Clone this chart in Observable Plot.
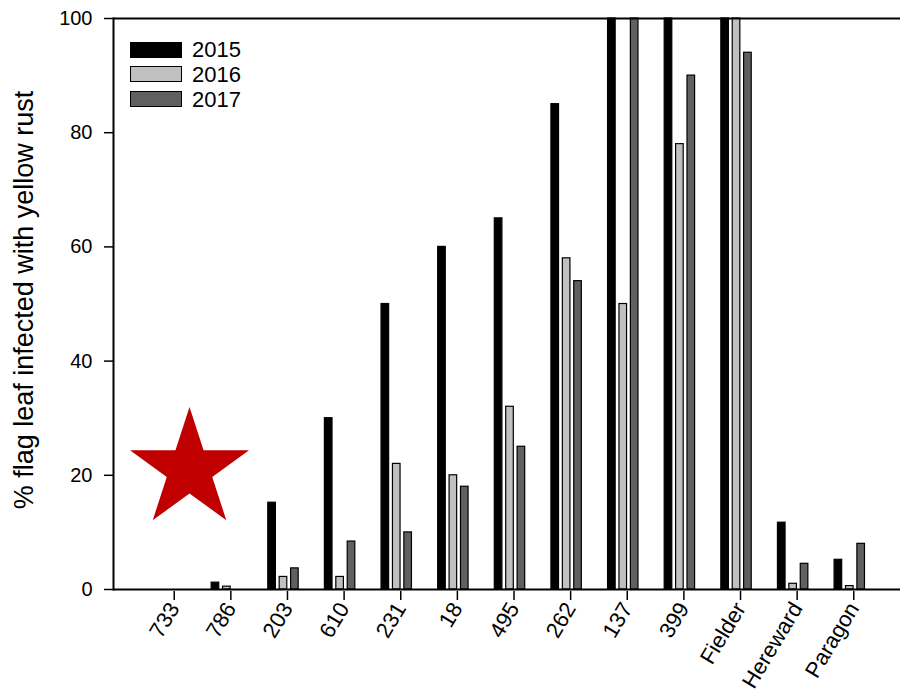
<!DOCTYPE html>
<html>
<head>
<meta charset="utf-8">
<script src="https://cdn.jsdelivr.net/npm/d3@7"></script>
<script src="https://cdn.jsdelivr.net/npm/@observablehq/plot@0.6"></script>
<style>
  html, body { margin: 0; padding: 0; background: #fff; }
  #wrap { position: relative; width: 900px; height: 695px; font-family: "Liberation Sans", Arial, sans-serif; }
  #legend { position: absolute; left: 130px; top: 41px; }
  .row { display: flex; align-items: center; height: 17px; margin-bottom: 7.8px; }
  .sw { width: 50px; height: 14px; border: 1.5px solid #000; }
  .lab { margin-left: 10px; font-size: 22px; line-height: 17px; color: #000; }
</style>
</head>
<body>
<div id="wrap"><div id="legend"></div></div>
<script>
const categories = ["733","786","203","610","231","18","495","262","137","399","Fielder","Hereward","Paragon"];
const years = ["2015","2016","2017"];
const v2015 = [0, 1.2, 15.2, 30, 50, 60, 65, 85, 100, 100, 100, 11.7, 5.2];
const v2016 = [0, 0.5, 2.2, 2.2, 22, 20, 32, 58, 50, 78, 100, 1.0, 0.6];
const v2017 = [0, 0, 3.7, 8.4, 10, 18, 25, 54, 100, 90, 94, 4.5, 8.0];
const fills = ["#000000", "#c0c0c0", "#606060"];
const yTicks = [0, 20, 40, 60, 80, 100];
const yLabel = "% flag leaf infected with yellow rust";
const star = [{category: "733", value: 21}];

const series = [v2015, v2016, v2017];
const width = 900, marginLeft = 113, marginRight = 0, insetL = 28.4, insetR = 22.4;
const bw = (width - marginLeft - marginRight - insetL - insetR) / categories.length;
const barW = 7.6, offs = [-11.4, 0, 11.4];

const barMarks = series.map((vals, i) => {
  const rows = categories.map((c, j) => ({category: c, value: vals[j], year: years[i]}));
  return Plot.barY(rows, {
    x: "category", y: "value",
    fill: fills[i], stroke: "#000", strokeWidth: 1.2,
    insetLeft: bw / 2 + offs[i] - barW / 2,
    insetRight: bw / 2 - offs[i] - barW / 2
  });
});

const chart = Plot.plot({
  width, height: 695,
  marginTop: 18, marginBottom: 106, marginLeft, marginRight,
  style: {fontFamily: '"Liberation Sans", Arial, sans-serif', fontSize: "20px", color: "#000", background: "#fff"},
  x: {domain: categories, padding: 0, round: false, insetLeft: insetL, insetRight: insetR, label: null},
  y: {domain: [0, 100], label: null},
  marks: [
    Plot.axisY({ticks: yTicks, tickSize: 9, tickPadding: 12, fontSize: 20, label: null, strokeWidth: 1.5}),
    Plot.axisX({tickSize: 9, tickRotate: -59, fontSize: 22, label: null, strokeWidth: 1.5, tickPadding: 4, dx: 4, dy: 2}),
    ...barMarks,
    Plot.ruleY([0, 100], {strokeWidth: 2}),
    Plot.frame({anchor: "left", strokeWidth: 2}),
    Plot.dot(star, {x: "category", y: "value", symbol: "star", r: 37.4, fill: "#c00000", stroke: null, dx: 19.3}),
    Plot.text([yLabel], {frameAnchor: "left", textAnchor: "middle", lineAnchor: "middle", rotate: -90, dx: -89, dy: -4, fontSize: 27, text: d => d})
  ]
});
document.getElementById("wrap").prepend(chart);

const legend = document.getElementById("legend");
years.forEach((y, i) => {
  const row = document.createElement("div");
  row.className = "row";
  const sw = document.createElement("div");
  sw.className = "sw";
  sw.style.background = fills[i];
  const lab = document.createElement("span");
  lab.className = "lab";
  lab.textContent = y;
  row.append(sw, lab);
  legend.append(row);
});
</script>
</body>
</html>
